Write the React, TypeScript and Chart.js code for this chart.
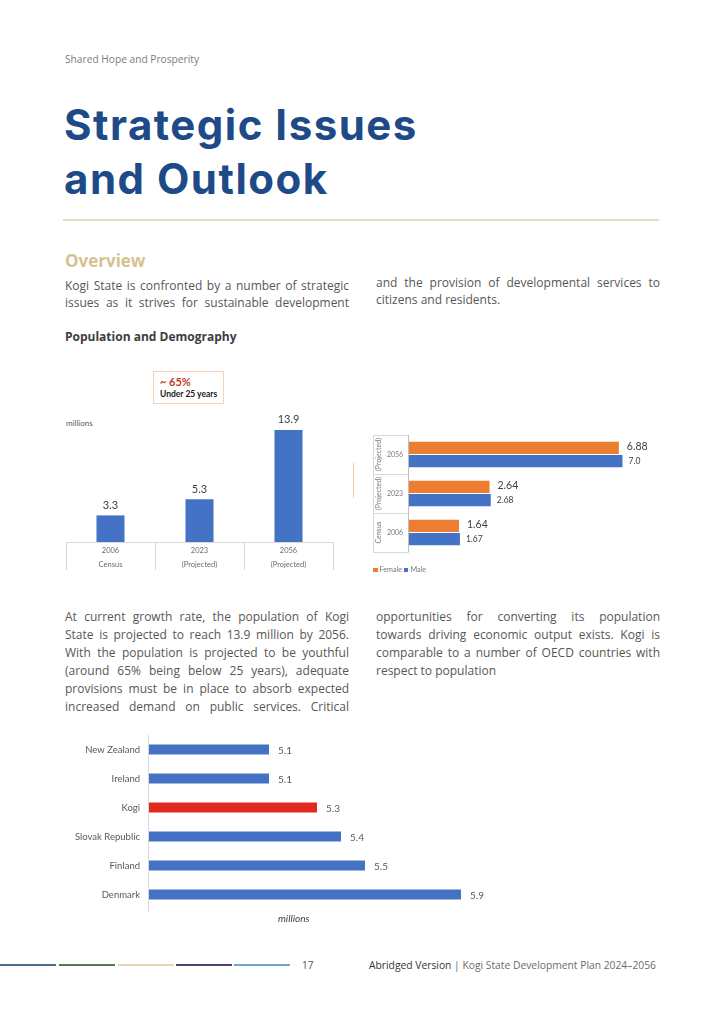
import React, { useEffect, useRef } from "react";
import { Chart, registerables } from "chart.js";
Chart.register(...registerables);

// ---------- DATA ----------
const popYears = ["2006", "2023", "2056"];
const popSubLabels = ["Census", "(Projected)", "(Projected)"];
const popValues = [3.3, 5.3, 13.9];

const sexYears = ["2056", "2023", "2006"];
const sexGroups = ["(Projected)", "(Projected)", "Census"];
const femaleValues = [6.88, 2.64, 1.64];
const maleValues = [7.0, 2.68, 1.67];
const femaleLabels = ["6.88", "2.64", "1.64"];
const maleLabels = ["7.0", "2.68", "1.67"];

const countries = ["New Zealand", "Ireland", "Kogi", "Slovak Republic", "Finland", "Denmark"];
const countryValues = [5.1, 5.1, 5.3, 5.4, 5.5, 5.9];
const highlightCountry = "Kogi";

// ---------- STYLE ----------
const BLUE = "#4472c4";
const ORANGE = "#ed7d31";
const RED = "#e2291f";
const CHART_FONT = "Lato, 'Liberation Sans', sans-serif";
const PAGE_FONT = "'Open Sans', 'Noto Sans', sans-serif";

const popAxisPlugin = {
  id: "popAxis",
  afterDatasetsDraw(chart: any) {
    const { ctx, chartArea: a, scales } = chart;
    const x = scales.x;
    const px = popYears.map((_, i) => x.getPixelForValue(i));
    const step = px.length > 1 ? px[1] - px[0] : a.right - a.left;
    ctx.save();
    ctx.strokeStyle = "#d9d9d9";
    ctx.lineWidth = 1;
    ctx.beginPath();
    ctx.moveTo(a.left, Math.round(a.bottom) + 0.5);
    ctx.lineTo(a.right, Math.round(a.bottom) + 0.5);
    for (let i = 0; i <= px.length; i++) {
      const bx = Math.round(px[0] - step / 2 + i * step) + 0.5;
      ctx.moveTo(bx, a.bottom);
      ctx.lineTo(bx, a.bottom + 28);
    }
    ctx.stroke();
    ctx.fillStyle = "#6b6b6b";
    ctx.font = "7.5px " + CHART_FONT;
    ctx.textAlign = "center";
    ctx.textBaseline = "middle";
    popYears.forEach((yr, i) => {
      ctx.fillText(yr, px[i], a.bottom + 9);
      ctx.fillText(popSubLabels[i], px[i], a.bottom + 23);
    });
    const meta = chart.getDatasetMeta(0);
    ctx.font = "11px " + CHART_FONT;
    ctx.fillStyle = "#404040";
    meta.data.forEach((el: any, i: number) => {
      ctx.fillText(popValues[i].toFixed(1), el.x, el.y - 10);
    });
    ctx.restore();
  },
};

const sexAxisPlugin = {
  id: "sexAxis",
  afterDatasetsDraw(chart: any) {
    const { ctx, chartArea: a, scales } = chart;
    const y = scales.y;
    const py = sexYears.map((_, i) => y.getPixelForValue(i));
    const step = py.length > 1 ? py[1] - py[0] : a.bottom - a.top;
    const tl = a.left - 36;
    ctx.save();
    ctx.lineWidth = 1;
    ctx.strokeStyle = "#d9d9d9";
    ctx.beginPath();
    ctx.moveTo(Math.round(tl) + 0.5, a.top);
    ctx.lineTo(Math.round(tl) + 0.5, a.bottom);
    for (let i = 0; i <= py.length; i++) {
      const by = Math.round(py[0] - step / 2 + i * step) + 0.5;
      ctx.moveTo(tl, by);
      ctx.lineTo(a.left, by);
    }
    ctx.stroke();
    ctx.strokeStyle = "#bfbfbf";
    ctx.beginPath();
    ctx.moveTo(Math.round(a.left) - 0.5, a.top);
    ctx.lineTo(Math.round(a.left) - 0.5, a.bottom);
    ctx.stroke();

    ctx.fillStyle = "#7a7a7a";
    ctx.font = "7px " + CHART_FONT;
    ctx.textAlign = "center";
    ctx.textBaseline = "middle";
    sexYears.forEach((yr, i) => {
      ctx.fillText(yr, tl + 22, py[i]);
      ctx.save();
      ctx.translate(tl + 6, py[i]);
      ctx.rotate(-Math.PI / 2);
      ctx.fillText(sexGroups[i], 0, 0);
      ctx.restore();
    });

    ctx.textAlign = "left";
    ctx.fillStyle = "#404040";
    const fm = chart.getDatasetMeta(0);
    const mm = chart.getDatasetMeta(1);
    ctx.font = "10.5px " + CHART_FONT;
    fm.data.forEach((el: any, i: number) => {
      ctx.fillText(femaleLabels[i], el.x + 8, el.y - 1);
    });
    ctx.font = "8.5px " + CHART_FONT;
    mm.data.forEach((el: any, i: number) => {
      ctx.fillText(maleLabels[i], el.x + 6, el.y);
    });
    ctx.restore();
  },
};

const countryAxisPlugin = {
  id: "countryAxis",
  afterDatasetsDraw(chart: any) {
    const { ctx, chartArea: a, scales } = chart;
    const y = scales.y;
    ctx.save();
    ctx.strokeStyle = "#d9d9d9";
    ctx.lineWidth = 1;
    ctx.beginPath();
    ctx.moveTo(Math.round(a.left) - 0.5, a.top);
    ctx.lineTo(Math.round(a.left) - 0.5, a.bottom + 3);
    ctx.stroke();
    ctx.fillStyle = "#595959";
    ctx.font = "9.5px " + CHART_FONT;
    ctx.textAlign = "right";
    ctx.textBaseline = "middle";
    countries.forEach((c, i) => {
      ctx.fillText(c, a.left - 9, y.getPixelForValue(i));
    });
    ctx.textAlign = "left";
    ctx.font = "10px " + CHART_FONT;
    const meta = chart.getDatasetMeta(0);
    meta.data.forEach((el: any, i: number) => {
      ctx.fillText(countryValues[i].toFixed(1), el.x + 9, el.y + 1);
    });
    ctx.restore();
  },
};

function ChartBox({ left, top, width, height, make }: any) {
  const ref = useRef<HTMLCanvasElement>(null);
  useEffect(() => {
    const chart = new Chart(ref.current as HTMLCanvasElement, make());
    return () => chart.destroy();
  }, []);
  return (
    <canvas
      ref={ref}
      width={width}
      height={height}
      style={{ position: "absolute", left, top, width, height }}
    />
  );
}

const popConfig = (): any => ({
  type: "bar",
  data: {
    labels: popYears,
    datasets: [
      { data: popValues, backgroundColor: BLUE, categoryPercentage: 1, barPercentage: 0.315 },
    ],
  },
  options: {
    responsive: false,
    animation: false,
    devicePixelRatio: 1,
    layout: { padding: { left: 10, right: 13, top: 53, bottom: 33 } },
    plugins: { legend: { display: false }, tooltip: { enabled: false } },
    scales: { x: { display: false }, y: { display: false, min: 0, max: 16 } },
  },
  plugins: [popAxisPlugin],
});

const sexConfig = (): any => ({
  type: "bar",
  data: {
    labels: sexYears,
    datasets: [
      { label: "Female", data: femaleValues, backgroundColor: ORANGE, categoryPercentage: 0.68, barPercentage: 0.92 },
      { label: "Male", data: maleValues, backgroundColor: BLUE, categoryPercentage: 0.68, barPercentage: 0.92 },
    ],
  },
  options: {
    indexAxis: "y",
    responsive: false,
    animation: false,
    devicePixelRatio: 1,
    layout: { padding: { left: 64, right: 22, top: 10, bottom: 28 } },
    plugins: { legend: { display: false }, tooltip: { enabled: false } },
    scales: { x: { display: false, min: 0, max: 8 }, y: { display: false } },
  },
  plugins: [sexAxisPlugin],
});

const countryConfig = (): any => ({
  type: "bar",
  data: {
    labels: countries,
    datasets: [
      {
        data: countryValues,
        backgroundColor: countries.map((c) => (c === highlightCountry ? RED : BLUE)),
        categoryPercentage: 1,
        barPercentage: 0.345,
      },
    ],
  },
  options: {
    indexAxis: "y",
    responsive: false,
    animation: false,
    devicePixelRatio: 1,
    layout: { padding: { left: 99, right: 15, top: 5, bottom: 6 } },
    plugins: { legend: { display: false }, tooltip: { enabled: false } },
    scales: { x: { display: false, min: 4.6, max: 6.0 }, y: { display: false } },
  },
  plugins: [countryAxisPlugin],
});

// ---------- TEXT ----------
const para1Left = [
  "Kogi State is confronted by a number of strategic",
  "issues as it strives for sustainable development",
];
const para1Right = ["and the provision of developmental services to", "citizens and residents."];
const para2Left = [
  "At current growth rate, the population of Kogi",
  "State is projected to reach 13.9 million by 2056.",
  "With the population is projected to be youthful",
  "(around 65% being below 25 years), adequate",
  "provisions must be in place to absorb expected",
  "increased demand on public services. Critical",
];
const para2Right = [
  "opportunities for converting its population",
  "towards driving economic output exists. Kogi is",
  "comparable to a number of OECD countries with",
  "respect to population",
];

function TextLines({ lines, x, y0, lh, w, lastJustify }: any) {
  return (
    <>
      {lines.map((t: string, i: number) => {
        const just = i < lines.length - 1 || lastJustify;
        return (
          <div
            key={i}
            style={{
              position: "absolute",
              left: x,
              top: y0 + i * lh - 8.5,
              width: w,
              height: 18,
              lineHeight: "18px",
              fontSize: 12,
              fontFamily: PAGE_FONT,
              color: "#575757",
              whiteSpace: "nowrap",
              textAlign: just ? "justify" : "left",
              textAlignLast: just ? "justify" : "left",
            } as any}
          >
            {t}
          </div>
        );
      })}
    </>
  );
}

export default function App() {
  const abs = (s: any) => ({ position: "absolute", ...s } as any);
  return (
    <div style={abs({ left: 0, top: 0, width: 724, height: 1024, background: "#fff", overflow: "hidden" })}>
      <div style={abs({ left: 65, top: 50, fontSize: 10.2, lineHeight: "18px", fontFamily: PAGE_FONT, color: "#7d7d7d" })}>
        Shared Hope and Prosperity
      </div>
      <div
        style={abs({
          left: 64,
          top: 98,
          fontSize: 42,
          lineHeight: "54px",
          fontWeight: 700,
          letterSpacing: 1.5,
          fontFamily: "Inter, sans-serif",
          color: "#1e4a88",
        })}
      >
        Strategic Issues
        <br />
        and Outlook
      </div>
      <div style={abs({ left: 63, top: 219, width: 596, height: 2, background: "#e6ddc6" })} />
      <div style={abs({ left: 65, top: 249, fontSize: 17, lineHeight: "24px", fontWeight: 700, fontFamily: PAGE_FONT, color: "#d6c290" })}>
        Overview
      </div>
      <TextLines lines={para1Left} x={65} y0={285} lh={17.5} w={284} lastJustify />
      <TextLines lines={para1Right} x={376} y0={282} lh={17.5} w={284} />
      <div style={abs({ left: 65, top: 328, fontSize: 12, lineHeight: "18px", fontWeight: 700, fontFamily: PAGE_FONT, color: "#3d3d3d" })}>
        Population and Demography
      </div>

      {/* Chart 1 extras */}
      <div
        style={abs({
          left: 153,
          top: 371,
          width: 69,
          height: 31,
          border: "1px solid #f6d2b8",
          fontFamily: CHART_FONT,
        })}
      >
        <div style={abs({ left: 6, top: 3, fontSize: 11, fontWeight: 700, color: "#c0392b", lineHeight: "13px" })}>~ 65%</div>
        <div style={abs({ left: 6, top: 17, fontSize: 8.5, fontWeight: 700, color: "#1a1a1a", lineHeight: "11px", whiteSpace: "nowrap" })}>
          Under 25 years
        </div>
      </div>
      <div style={abs({ left: 66, top: 417, fontSize: 8, lineHeight: "12px", fontFamily: CHART_FONT, color: "#595959" })}>millions</div>
      <ChartBox left={56} top={360} width={290} height={215} make={popConfig} />

      {/* Chart 2 extras */}
      <div style={abs({ left: 353, top: 463, width: 1, height: 35, background: "#f5cfb3" })} />
      <ChartBox left={345} top={425} width={330} height={155} make={sexConfig} />
      <div style={abs({ left: 373, top: 565, fontSize: 7.2, lineHeight: "10px", fontFamily: CHART_FONT, color: "#7a7a7a", whiteSpace: "nowrap" })}>
        <span style={{ display: "inline-block", width: 4.5, height: 4.5, background: ORANGE, marginRight: 2 }} />
        Female{" "}
        <span style={{ display: "inline-block", width: 4.5, height: 4.5, background: BLUE, marginRight: 2 }} />
        Male
      </div>

      <TextLines lines={para2Left} x={65} y0={616} lh={18} w={284} lastJustify />
      <TextLines lines={para2Right} x={376} y0={616} lh={18} w={284} />

      {/* Chart 3 */}
      <ChartBox left={50} top={730} width={450} height={185} make={countryConfig} />
      <div style={abs({ left: 278, top: 911, fontSize: 10, lineHeight: "14px", fontStyle: "italic", fontFamily: CHART_FONT, color: "#404040" })}>
        millions
      </div>

      {/* Footer */}
      <div style={abs({ left: 0, top: 964, width: 56, height: 1.5, background: "#4d6d8c" })} />
      <div style={abs({ left: 59, top: 964, width: 56, height: 1.5, background: "#557a52" })} />
      <div style={abs({ left: 118, top: 964, width: 56, height: 1.5, background: "#ead6b5" })} />
      <div style={abs({ left: 176, top: 964, width: 56, height: 1.5, background: "#4b4466" })} />
      <div style={abs({ left: 234, top: 964, width: 56, height: 1.5, background: "#73a6c9" })} />
      <div style={abs({ left: 302, top: 957, fontSize: 10, lineHeight: "16px", fontFamily: PAGE_FONT, color: "#555" })}>17</div>
      <div style={abs({ left: 369, top: 957, fontSize: 10.3, lineHeight: "16px", fontFamily: PAGE_FONT, color: "#6b6b6b", whiteSpace: "nowrap" })}>
        <span style={{ color: "#333", fontWeight: 500 }}>Abridged Version</span> | Kogi State Development Plan 2024–2056
      </div>
    </div>
  );
}
